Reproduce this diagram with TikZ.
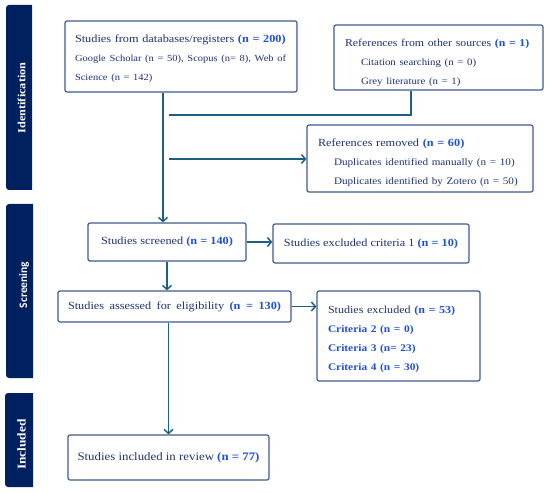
\documentclass[tikz,border=0pt]{standalone}
\usepackage{fontspec}
\setmainfont{Liberation Serif}[FakeStretch=1.12]
\newfontfamily\carl{Carlito}
\usetikzlibrary{arrows.meta}
\definecolor{navy}{RGB}{0,32,96}
\definecolor{conn}{RGB}{31,96,130}
\definecolor{boxc}{RGB}{62,92,140}
\definecolor{txt}{RGB}{30,50,110}
\definecolor{nblue}{RGB}{30,80,210}
\newcommand{\nb}[1]{{\bfseries\color{nblue}#1}}
\begin{document}
\begin{tikzpicture}[x=1bp,y=-1bp,
 box/.style={draw=boxc, line width=1.2bp, rounded corners=2bp, fill=white, inner xsep=0pt, inner ysep=0pt, text=txt, font=\fontsize{11}{19}\selectfont},
 conline/.style={draw=conn, line width=1.5bp},
 arr/.style={conline, -{Straight Barb[length=4bp,width=9bp,line width=1.5bp]}},
 barlabel/.style={text=white, font=\bfseries\fontsize{11}{12}\selectfont, rotate=90}]
\fill[white] (0,0) rectangle (550,493);
\useasboundingbox (0,0) rectangle (550,493);
% side bars
\fill[navy] (32,5) [rounded corners=3bp] -- (6,5) -- (6,190) [sharp corners] -- (32,190) -- cycle;
\fill[navy] (33,204) [rounded corners=3bp] -- (6,204) -- (6,378) [sharp corners] -- (33,378) -- cycle;
\fill[navy] (33,393) [rounded corners=3bp] -- (5,393) -- (5,487) [sharp corners] -- (33,487) -- cycle;
\node[barlabel] (lid) at (21.5,98) {Identification};
\node[barlabel, font=\carl\bfseries\fontsize{11.5}{12}\selectfont] (lscr) at (24,285) {Screening};
\node[barlabel, font=\bfseries\fontsize{12}{12}\selectfont] (linc) at (21.5,444.5) {Included};
% boxes
\node[box, align=left, minimum width=232bp, minimum height=71bp, text width=212bp] (db) at (181,56.5)
 {\rule{0pt}{12bp}Studies from databases/registers \nb{(n = 200)}\\ {\fontsize{9.4}{19}\selectfont Google Scholar (n = 50), Scopus (n= 8), Web of\\ Science (n = 142)}};
\node[box, align=left, minimum width=209bp, minimum height=65bp, text width=187bp] (oth) at (438.5,57.5)
 {\mbox{\fontsize{10.6}{19}\selectfont\rule{0pt}{18bp}References from other sources \nb{(n = 1)}}\\ {\fontsize{9.7}{19}\selectfont \hspace*{16bp}Citation searching (n = 0)\\ \hspace*{16bp}Grey literature (n = 1)}};
\node[box, align=left, minimum width=226bp, minimum height=67bp, text width=204bp] (rem) at (420,158.5)
 {\rule{0pt}{17bp}References removed \nb{(n = 60)}\\ {\fontsize{10}{19}\selectfont \hspace*{16bp}Duplicates identified manually (n = 10)\\ \hspace*{16bp}Duplicates identified by Zotero (n = 50)}};
\node[box, align=center, minimum width=158bp, minimum height=38bp] (scr) at (167,242)
 {Studies screened \nb{(n = 140)}};
\node[box, align=center, minimum width=196bp, minimum height=39bp] (exc1) at (371,243.5)
 {Studies excluded criteria 1 \nb{(n = 10)}};
\node[box, align=center, minimum width=233bp, minimum height=31bp] (ass) at (174.5,306.5)
 {\makebox[213bp][s]{Studies assessed for eligibility \nb{(n = 130)}}};
\node[box, align=left, minimum width=163bp, minimum height=90bp, text width=141bp] (exc2) at (398.5,336)
 {{\fontsize{10.8}{19}\selectfont\rule{0pt}{14bp}Studies excluded \nb{(n = 53)}}\\ {\fontsize{10.2}{19}\selectfont\nb{Criteria 2 (n = 0)}\\ \nb{Criteria 3 (n= 23)}\\ \nb{Criteria 4 (n = 30)}}};
\node[box, align=center, minimum width=201bp, minimum height=45bp, font=\fontsize{11.5}{19}\selectfont] (inc) at (168.5,457.5)
 {Studies included in review \nb{(n = 77)}};
% connectors
\coordinate (mx) at (163,0);
\coordinate (jn) at (169,115);
\coordinate (ox) at (411,0);
\coordinate (rj) at (169,159);
\draw[arr] (db.south -| mx) -- (scr.north -| mx);
\draw[conline] (oth.south -| ox) |- (jn);
\draw[arr] (rj) -- (rem.west |- rj);
\draw[arr] (scr.east) -- (scr.east -| exc1.west);
\draw[arr] (scr.south) -- (scr.south |- ass.north);
\draw[arr] (ass.east) -- (ass.east -| exc2.west);
\draw[arr] (inc.north |- ass.south) -- (inc.north);
\end{tikzpicture}
\end{document}
